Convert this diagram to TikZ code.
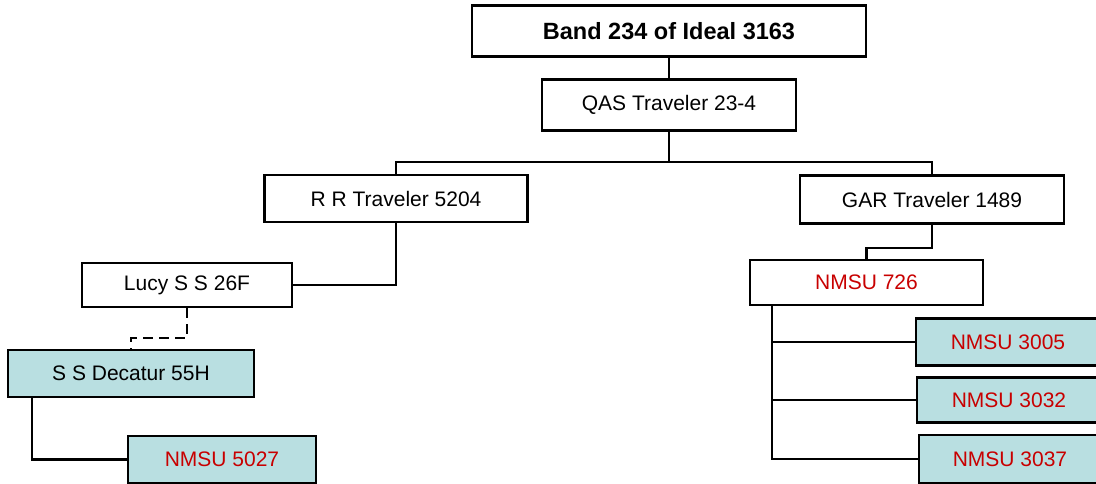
\documentclass[tikz,border=0pt]{standalone}
\usepackage{fontspec}
\setmainfont{Liberation Sans}
\usepackage{tikz}
\definecolor{lineblue}{RGB}{185,223,225}
\definecolor{nmsured}{RGB}{200,0,0}
\tikzset{
  famnode/.style={draw, line width=2.4pt, inner sep=0pt, align=center,
    font=\fontsize{21}{25}\selectfont},
  bluenode/.style={famnode, fill=lineblue},
  nmsu/.style={text=nmsured},
  link/.style={line width=2.2pt},
}

\begin{document}
\begin{tikzpicture}[x=1pt, y=-1pt]
      \useasboundingbox (0,0) rectangle (1096,483);

      % Top of the line
      \node[famnode, minimum width=394pt, minimum height=51pt,
        font=\fontsize{23.5}{28}\selectfont\bfseries] (band) at (669,31) {Band 234 of Ideal 3163};
      \node[famnode, minimum width=254pt, minimum height=51pt] (qas) at (669,105) {QAS Traveler 23-4};

      % Second generation
      \node[famnode, minimum width=263pt, minimum height=47pt] (rr) at (396,198.5) {R R Traveler 5204};
      \node[famnode, minimum width=264pt, minimum height=48pt] (gar) at (932,199.5) {GAR Traveler 1489};

      % Left branch
      \node[famnode, minimum width=210pt, minimum height=44pt] (lucy) at (187,285) {Lucy S S 26F};
      \node[bluenode, minimum width=246pt, minimum height=47pt] (decatur) at (131,373.5) {S S Decatur 55H};
      \node[bluenode, nmsu, minimum width=188pt, minimum height=47pt] (n5027) at (222,459.5) {NMSU 5027};

      % Right branch
      \node[famnode, nmsu, minimum width=233pt, minimum height=45pt] (n726) at (866.5,282.5) {NMSU 726};
      \node[bluenode, nmsu, minimum width=184pt, minimum height=47pt] (n3005) at (1008,342) {NMSU 3005};
      \node[bluenode, nmsu, minimum width=184pt, minimum height=45pt] (n3032) at (1009,400) {NMSU 3032};
      \node[bluenode, nmsu, minimum width=182pt, minimum height=48pt] (n3037) at (1010,459) {NMSU 3037};

      % Connectors
      \coordinate (bus) at (669,162);
      \coordinate (garmid) at (900,248);
      \coordinate (lucymid) at (160,338);
      \draw[link] (band.south) -- (qas.north);
      \draw[link] (qas.south) -- (bus);
      \draw[link] (rr.north) |- (bus) -| (gar.north);
      \draw[link] (rr.south) |- (lucy.east);
      \draw[link] (gar.south) |- (garmid) -| (n726.north);
      \draw[link, dash pattern=on 10pt off 6pt] (lucy.south) |- (lucymid) -| (decatur.north);
      \draw[link] ([xshift=25pt]decatur.south west) |- (n5027.west);
      \coordinate (trunk) at ([xshift=23pt]n726.south west);
      \draw[link] (trunk) |- (n3037.west);
      \foreach \kid in {n3005,n3032}{
          \draw[link] (trunk |- \kid.west) -- (\kid.west);
        }
    \end{tikzpicture}
\end{document}
